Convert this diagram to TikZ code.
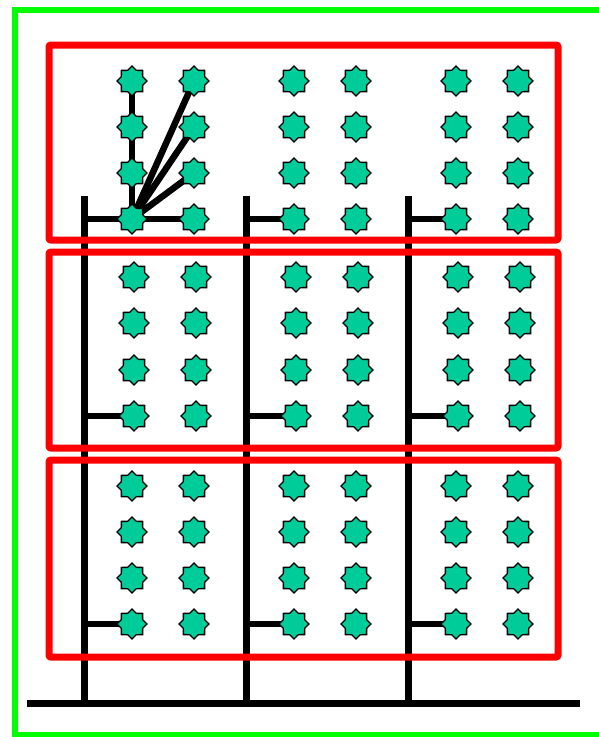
\documentclass[tikz,border=0pt]{standalone}
\usetikzlibrary{shapes.geometric,backgrounds}
\definecolor{gf}{RGB}{0,255,0}
\definecolor{sf}{RGB}{0,204,153}
\begin{document}
\begin{tikzpicture}[x=1pt,y=-1pt,
 bar/.style={line width=7pt,black},
 wire/.style={line width=6.5pt,black},
 box/.style={draw=red,line width=7pt,rounded corners=2pt},
 st/.style={star,star points=8,star point ratio=1.3,minimum size=30pt,inner sep=0pt,fill=sf,draw=black,line width=1.3pt}]
\useasboundingbox (0,0) rectangle (599,737);
\clip (0,0) rectangle (599,737);
% stars
\foreach \g in {0,1,2}{
 \foreach \c in {0,1}{
  \foreach \r/\y in {0/81,1/127,2/173,3/219}{
   \node[st] (s-\g-\c-0-\r) at (132+162*\g+62*\c,\y) {};}
  \foreach \r/\y in {0/277,1/323,2/370,3/416}{
   \node[st] (s-\g-\c-1-\r) at (134+162*\g+62*\c,\y) {};}
  \foreach \r/\y in {0/486,1/532,2/578,3/624}{
   \node[st] (s-\g-\c-2-\r) at (132+162*\g+62*\c,\y) {};}
 }}
% bar coordinates
\foreach \g in {0,1,2}{
 \coordinate (vt-\g) at (84+162*\g,196);
 \coordinate (vb-\g) at (84+162*\g,703);
 \coordinate (j-\g-0) at (84+162*\g,219);
 \coordinate (j-\g-1) at (84+162*\g,416);
 \coordinate (j-\g-2) at (84+162*\g,624);
}
\coordinate (hl) at (27,703);
\coordinate (hr) at (580,703);
% red boxes
\draw[box] (49,45) rectangle (558,240);
\draw[box] (49,252) rectangle (558,448);
\draw[box] (49,460) rectangle (558,657);
\begin{scope}[on background layer]
 \draw[gf,line width=6.5pt] (15,10) rectangle (612,735);
 \draw[bar] (hl) -- (hr);
 \foreach \g in {0,1,2}{
  \draw[bar] (vt-\g) -- (vb-\g);
  \foreach \b in {0,1,2}{
   \draw[wire] (j-\g-\b) -- (s-\g-0-\b-3.center);}
 }
 \draw[wire] (s-0-0-0-3.center) -- (s-0-1-0-3.center);
 \draw[wire] (s-0-0-0-3.center) -- (s-0-0-0-0.center);
 \draw[wire] (s-0-0-0-3.center) -- (s-0-1-0-0.center);
 \draw[wire] (s-0-0-0-3.center) -- (s-0-1-0-1.center);
 \draw[wire] (s-0-0-0-3.center) -- (s-0-1-0-2.center);
\end{scope}
\end{tikzpicture}
\end{document}
